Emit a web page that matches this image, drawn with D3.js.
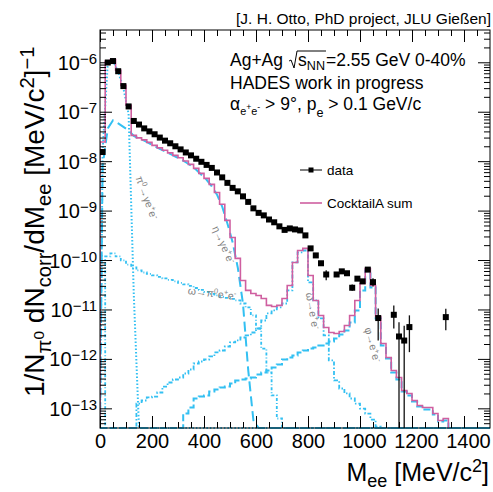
<!DOCTYPE html>
<html>
<head>
<meta charset="utf-8">
<script src="https://cdn.jsdelivr.net/npm/d3@7/dist/d3.min.js"></script>
<style>
html,body{margin:0;padding:0;background:#fff;}
svg{display:block;font-family:"Liberation Sans",Arial,Helvetica,sans-serif;}
</style>
</head>
<body>
<svg id="chart" width="493" height="492"></svg>
<script>
// ================= DATA =================
const xDomain = [0, 1500];
const yDomain = [4e-14, 4.5e-6];
const xMajorTicks = [0, 200, 400, 600, 800, 1000, 1200, 1400];
const yMajorTicks = [1e-13, 1e-12, 1e-11, 1e-10, 1e-9, 1e-8, 1e-7, 1e-6];

// measured data points (bin centres in MeV/c^2)
const dataMass = [10,30,50,70,90,110,130,150,170,190,210,230,250,270,290,310,330,350,370,390,410,430,450,470,490,510,530,550,570,590,610,630,650,670,690,710,730,750,770,790,810,830,850,870,910,930,950,970,990,1010,1030,1050,1070,1130,1150,1170,1190,1330];
const dataValue = [1.53e-8,9.9e-7,1.06e-6,6.6e-7,3.3e-7,1.28e-7,6.5e-8,5.5e-8,4.6e-8,4.0e-8,3.5e-8,3.0e-8,2.6e-8,2.3e-8,2.0e-8,1.73e-8,1.5e-8,1.31e-8,1.12e-8,9.7e-9,8.4e-9,7.3e-9,5.9e-9,4.7e-9,3.64e-9,2.88e-9,2.45e-9,1.94e-9,1.5e-9,1.11e-9,9.0e-10,8.0e-10,6.6e-10,5.8e-10,4.8e-10,4.07e-10,4.36e-10,4.16e-10,3.97e-10,3.15e-10,1.72e-10,1.24e-10,8.6e-11,5.1e-11,5.1e-11,5.9e-11,5.4e-11,2.75e-11,4.2e-11,3.7e-11,6.4e-11,3.57e-11,6.7e-12,7.8e-12,2.84e-12,2.35e-12,4.4e-12,7.0e-12];

// visible error bars
const errMass = [870, 970, 1050, 1070, 1130, 1150, 1170, 1190, 1330];
const errHigh = [6.2e-11, 3.2e-11, 4.3e-11, 1.05e-11, 1.2e-11, 5.5e-12, 4.7e-12, 7.6e-12, 1.03e-11];
const errLow  = [3.9e-11, 2.4e-11, 2.9e-11, 2.35e-12, 4.1e-12, 0, 0, 1.37e-12, 3.8e-12];

// histogram binning of the cocktail (MeV/c^2)
const binWidth = 20;
const nBins = 75;

// CocktailA sum, bins starting at 0
const cocktailSum = [2.44e-8,1.05e-6,1.135e-6,6.89e-7,3.42e-7,1.35e-7,3.33e-8,2.96e-8,2.70e-8,2.40e-8,2.09e-8,1.86e-8,1.66e-8,1.47e-8,1.31e-8,1.17e-8,1.01e-8,8.61e-9,7.14e-9,5.66e-9,4.49e-9,3.39e-9,2.33e-9,1.34e-9,6.34e-10,2.86e-10,1.08e-10,3.86e-11,2.43e-11,2.11e-11,1.92e-11,1.67e-11,1.21e-11,1.15e-11,1.21e-11,1.67e-11,3.06e-11,8.94e-11,1.56e-10,1.72e-10,4.88e-11,1.52e-11,7.57e-12,4.33e-12,3.42e-12,3.27e-12,3.59e-12,4.74e-12,7.57e-12,1.52e-11,3.36e-11,6.76e-11,3.06e-11,7.21e-12,2.05e-12,1.07e-12,5.82e-13,4.20e-13,2.29e-13,2.00e-13,1.44e-13,1.14e-13,1.04e-13,1.04e-13,7.85e-14,5.66e-14,6.22e-14];

// omega -> pi0 e+e-, bins starting at 0
const omegaDalitz = [0,1.18e-10,1.36e-10,1.18e-10,9.8e-11,8.1e-11,7.08e-11,6.15e-11,5.6e-11,5.23e-11,4.88e-11,4.55e-11,4.24e-11,3.95e-11,3.69e-11,3.44e-11,3.21e-11,2.99e-11,2.72e-11,2.48e-11,2.26e-11,2.06e-11,1.92e-11,1.79e-11,1.71e-11,1.63e-11,1.52e-11,1.32e-11,1.10e-11,7.57e-12,4.12e-12,1.62e-12,5.31e-13,1.82e-13,6.22e-14];

// omega -> e+e-, bins starting at 0
const omegaDirect = [0,0,0,0,0,0,0,1.25e-13,1.44e-13,1.66e-13,1.73e-13,2.09e-13,2.76e-13,3.33e-13,3.83e-13,4.20e-13,5.06e-13,6.1e-13,8.07e-13,8.85e-13,9.72e-13,1.12e-12,1.35e-12,1.48e-12,1.78e-12,2.15e-12,2.36e-12,2.71e-12,2.98e-12,3.42e-12,4.12e-12,5.98e-12,8.3e-12,9.55e-12,1.10e-11,1.32e-11,2.43e-11,8.94e-11,1.43e-10,1.56e-10,3.52e-11,1.52e-11,6.58e-12,2.98e-12,9.3e-13,3.66e-13,2.52e-13,2.0e-13,1.58e-13,1.25e-13,9.9e-14,7.85e-14,5.93e-14,4.28e-14];

// phi -> e+e-, bins starting at 0
const phiDirect = [0,0,0,0,0,0,0,0,0,0,0,0,0,0,0,0,7.85e-14,1.04e-13,1.58e-13,1.73e-13,1.82e-13,2.19e-13,2.40e-13,2.64e-13,2.76e-13,3.18e-13,3.66e-13,3.83e-13,4.01e-13,4.20e-13,4.83e-13,5.31e-13,5.82e-13,6.7e-13,7.71e-13,9.72e-13,1.07e-12,1.17e-12,1.35e-12,1.48e-12,1.62e-12,1.70e-12,1.87e-12,2.05e-12,2.25e-12,2.59e-12,3.12e-12,3.76e-12,5.46e-12,9.55e-12,2.43e-11,6.15e-11,2.79e-11,6.58e-12,1.87e-12,1.02e-12,5.31e-13,3.83e-13,2.19e-13,1.82e-13,1.37e-13,1.09e-13,9.46e-14,9.46e-14,7.48e-14,5.41e-14,5.66e-14];

// pi0 -> gamma e+e- (smooth curve)
const pi0Mass  = [0, 10, 30, 50, 70, 90, 110, 130, 150];
const pi0Value = [0, 1.6e-8, 1.0e-6, 1.07e-6, 6.4e-7, 3.0e-7, 9e-8, 2e-11, 0];

// eta -> gamma e+e- (smooth curve)
const etaMass  = [0,10,30,50,70,90,110,130,150,170,190,210,230,250,270,290,310,330,350,370,390,410,430,450,470,490,510,530,550,570,590,610];
const etaValue = [0,8e-9,4.61e-8,6.7e-8,5.82e-8,4.94e-8,4.2e-8,3.25e-8,2.85e-8,2.6e-8,2.3e-8,2.0e-8,1.78e-8,1.58e-8,1.4e-8,1.24e-8,1.1e-8,9.5e-9,8.1e-9,6.7e-9,5.3e-9,4.2e-9,3.1e-9,2.1e-9,1.2e-9,5.5e-10,2.3e-10,7e-11,1.3e-11,6e-13,5.7e-14,0];

// ================= DRAWING =================
const frame = {l: 100, r: 490, t: 30, b: 428};
const svg = d3.select('#chart');
const x = d3.scaleLinear().domain(xDomain).range([frame.l, frame.r]);
const y = d3.scaleLog().domain(yDomain).range([frame.b, frame.t]);
const yc = v => y(Math.max(v || 0, yDomain[0]));

const BLUE = '#33c0f2';
const PINK = '#cf5fa0';

svg.append('defs').append('clipPath').attr('id', 'clip')
  .append('rect').attr('x', frame.l).attr('y', frame.t - 1)
  .attr('width', frame.r - frame.l).attr('height', frame.b - frame.t + 2);

const plot = svg.append('g').attr('clip-path', 'url(#clip)');
const line = d3.line();

function stepPoints(vals) {
  const pts = [[x(0), frame.b]];
  for (let i = 0; i < nBins; i++) {
    const v = vals[i] || 0;
    const lo = i * binWidth, hi = lo + binWidth;
    pts.push([x(lo), yc(v)], [x(hi), yc(v)]);
  }
  pts.push([x(nBins * binWidth), frame.b]);
  return pts;
}
function curvePoints(ms, vs) {
  const pts = ms.map((m, i) => [x(m), yc(vs[i])]);
  pts.push([x(xDomain[1]), frame.b]);
  return pts;
}

// components
plot.append('path').attr('d', line(stepPoints(phiDirect)))
  .attr('fill', 'none').attr('stroke', BLUE).attr('stroke-width', 2).attr('stroke-dasharray', '7,3');
plot.append('path').attr('d', line(stepPoints(omegaDirect)))
  .attr('fill', 'none').attr('stroke', BLUE).attr('stroke-width', 1.8).attr('stroke-dasharray', '4,2,1.5,2');
plot.append('path').attr('d', line(stepPoints(omegaDalitz)))
  .attr('fill', 'none').attr('stroke', BLUE).attr('stroke-width', 1.8).attr('stroke-dasharray', '3,2,1,2');
plot.append('path').attr('d', line(curvePoints(etaMass, etaValue)))
  .attr('fill', 'none').attr('stroke', BLUE).attr('stroke-width', 2).attr('stroke-dasharray', '10,5');
plot.append('path').attr('d', line(curvePoints(pi0Mass, pi0Value)))
  .attr('fill', 'none').attr('stroke', BLUE).attr('stroke-width', 2).attr('stroke-dasharray', '1.5,2');

// cocktail sum
{
  const pts = [[x(0), frame.b]];
  cocktailSum.forEach((v, i) => {
    pts.push([x(i * binWidth), yc(v)], [x((i + 1) * binWidth), yc(v)]);
  });
  pts.push([x(cocktailSum.length * binWidth), frame.b]);
  plot.append('path').attr('d', line(pts)).attr('fill', 'none')
    .attr('stroke', PINK).attr('stroke-width', 1.6);
}

// data error bars
errMass.forEach((m, i) => {
  plot.append('line').attr('x1', x(m)).attr('x2', x(m))
    .attr('y1', yc(errHigh[i])).attr('y2', yc(errLow[i]))
    .attr('stroke', '#111').attr('stroke-width', 1.3);
});
// data points
plot.selectAll('rect.pt').data(dataMass).join('rect').attr('class', 'pt')
  .attr('x', d => x(d) - 3).attr('y', (d, i) => y(dataValue[i]) - 3)
  .attr('width', 6).attr('height', 6).attr('fill', '#000');

// ---------- axes ----------
const xMinorTicks = d3.range(0, 1500, 50).filter(v => v % 200 !== 0);
const yMinorTicks = [];
for (let e = -14; e <= -6; e++) for (let m = 2; m <= 9; m++) {
  const v = m * Math.pow(10, e);
  if (v > yDomain[0] && v < yDomain[1]) yMinorTicks.push(v);
}
function styleAxis(g) { g.select('.domain').remove(); g.selectAll('line').attr('stroke', '#000'); }

svg.append('g').attr('transform', `translate(0,${frame.b})`)
  .call(d3.axisBottom(x).tickValues(xMajorTicks).tickSize(-12).tickPadding(6).tickFormat(d3.format('d')))
  .call(styleAxis)
  .call(g => g.selectAll('text').attr('fill', '#000').style('font-size', '20px').attr('font-family', null)
    .attr('dx', d => d >= 1000 ? 4 : 0));
svg.append('g').attr('transform', `translate(0,${frame.b})`)
  .call(d3.axisBottom(x).tickValues(xMinorTicks).tickSize(-6).tickFormat(''))
  .call(styleAxis);
svg.append('g').attr('transform', `translate(0,${frame.t})`)
  .call(d3.axisTop(x).tickValues(xMajorTicks).tickSize(-12).tickFormat(''))
  .call(styleAxis);
svg.append('g').attr('transform', `translate(0,${frame.t})`)
  .call(d3.axisTop(x).tickValues(xMinorTicks).tickSize(-6).tickFormat(''))
  .call(styleAxis);
svg.append('g').attr('transform', `translate(${frame.l},0)`)
  .call(d3.axisLeft(y).tickValues(yMajorTicks).tickSize(-12).tickFormat(''))
  .call(styleAxis);
svg.append('g').attr('transform', `translate(${frame.l},0)`)
  .call(d3.axisLeft(y).tickValues(yMinorTicks).tickSize(-6).tickFormat(''))
  .call(styleAxis);
svg.append('g').attr('transform', `translate(${frame.r},0)`)
  .call(d3.axisRight(y).tickValues(yMajorTicks).tickSize(-12).tickFormat(''))
  .call(styleAxis);
svg.append('g').attr('transform', `translate(${frame.r},0)`)
  .call(d3.axisRight(y).tickValues(yMinorTicks).tickSize(-6).tickFormat(''))
  .call(styleAxis);

svg.append('rect').attr('x', frame.l).attr('y', frame.t)
  .attr('width', frame.r - frame.l).attr('height', frame.b - frame.t)
  .attr('fill', 'none').attr('stroke', '#000').attr('stroke-width', 1);

// y tick labels 10^n
yMajorTicks.forEach(v => {
  const e = Math.round(Math.log10(v));
  const t = svg.append('text').attr('x', 97).attr('y', y(v) + 7.5)
    .attr('text-anchor', 'end').style('font-size', '20px').attr('fill', '#000');
  t.append('tspan').text('10');
  t.append('tspan').text('\u2212' + (-e)).attr('dy', -6).style('font-size', '15px');
});

// ---------- rich text helper ----------
function rich(parent, xx, yy, size, parts, anchor) {
  const t = parent.append('text').attr('x', xx).attr('y', yy)
    .style('font-size', size + 'px').attr('text-anchor', anchor || 'start');
  let prev = 0;
  parts.forEach(p => {
    const [txt, off, sc] = p;
    const ts = t.append('tspan').text(txt).attr('dy', off - prev);
    if (sc !== 1) ts.style('font-size', (size * sc) + 'px');
    prev = off;
  });
  return t;
}

// y axis title
{
  const g = svg.append('g').attr('transform', 'translate(44,397) rotate(-90)');
  rich(g, 0, 0, 28, [
    ['1/N', 0, 1], ['\u03c0', 7, 0.72], ['0', 0, 0.55], [' dN', 0, 1], ['corr', 7, 0.72],
    ['/dM', 0, 1], ['ee', 7, 0.72], [' [MeV/c', 0, 1], ['2', -10, 0.72], [']', 0, 1], ['\u22121', -10, 0.72]
  ], 'start').attr('fill', '#000');
}
// x axis title
rich(svg, 489, 481, 25, [
  ['M', 0, 1], ['ee', 6, 0.72], [' [MeV/c', 0, 1], ['2', -9, 0.72], [']', 0, 1]
], 'end').attr('fill', '#000');

// header
svg.append('text').attr('x', 491).attr('y', 24).attr('text-anchor', 'end')
  .style('font-size', '15.5px').text('[J. H. Otto, PhD project, JLU Gie\u00dfen]');

// info text
{
  const fs = 17.5, x0 = 230, yb = 66;
  const t1 = svg.append('text').attr('x', x0).attr('y', yb).style('font-size', fs + 'px').text('Ag+Ag');
  const w1 = t1.node().getComputedTextLength();
  const rx = x0 + w1 + 6;
  const t2 = rich(svg, rx + 9, yb, fs, [['s', 0, 1], ['NN', 4, 0.72]]);
  const w2 = t2.node().getComputedTextLength();
  svg.append('path')
    .attr('d', `M${rx},${yb - 5} L${rx + 2},${yb - 6} L${rx + 5},${yb + 2} L${rx + 8},${yb - 15} L${rx + 10 + w2},${yb - 15}`)
    .attr('fill', 'none').attr('stroke', '#000').attr('stroke-width', 1);
  svg.append('text').attr('x', rx + 10 + w2).attr('y', yb).style('font-size', fs + 'px')
    .text('=2.55 GeV 0-40%');
  svg.append('text').attr('x', x0).attr('y', 89).style('font-size', fs + 'px').text('HADES work in progress');
  rich(svg, x0, 110, fs, [
    ['\u03b1', 0, 1], ['e', 5, 0.62], ['+', 0, 0.5], ['e', 5, 0.62], ['-', 0, 0.5],
    [' > 9\u00b0, p', 0, 1], ['e', 7, 0.72], [' > 0.1 GeV/c', 0, 1]
  ]);
}

// legend
svg.append('line').attr('x1', 300).attr('x2', 322).attr('y1', 170).attr('y2', 170)
  .attr('stroke', '#000').attr('stroke-width', 1);
svg.append('rect').attr('x', 308.5).attr('y', 167.5).attr('width', 5).attr('height', 5).attr('fill', '#000');
svg.append('text').attr('x', 327).attr('y', 175).style('font-size', '13.5px').text('data');
svg.append('line').attr('x1', 300).attr('x2', 322).attr('y1', 203).attr('y2', 203)
  .attr('stroke', PINK).attr('stroke-width', 1.6);
svg.append('text').attr('x', 327).attr('y', 208).style('font-size', '13.5px').text('CocktailA sum');

// channel annotations
function note(cx, cy, ang, parts) {
  const g = svg.append('g').attr('transform', `translate(${cx},${cy}) rotate(${ang})`);
  rich(g, 0, 3, 10.5, parts, 'middle').attr('fill', '#808080');
}
note(146, 198, 70, [['\u03c0', 0, 1], ['0', -4, 0.7], ['\u2192\u03b3e', 0, 1], ['+', -4, 0.7], ['e', 0, 1], ['-', -4, 0.7]]);
note(223, 245, 66, [['\u03b7\u2192\u03b3e', 0, 1], ['+', -4, 0.7], ['e', 0, 1], ['-', -4, 0.7]]);
note(212, 294, 7, [['\u03c9\u2192\u03c0', 0, 1], ['0', -4, 0.7], ['e', 0, 1], ['+', -4, 0.7], ['e', 0, 1], ['-', -4, 0.7]]);
note(312, 311, 80, [['\u03c9\u2192e', 0, 1], ['+', -4, 0.7], ['e', 0, 1], ['-', -4, 0.7]]);
note(372, 345, 75, [['\u03c6\u2192e', 0, 1], ['+', -4, 0.7], ['e', 0, 1], ['-', -4, 0.7]]);
</script>
</body>
</html>
